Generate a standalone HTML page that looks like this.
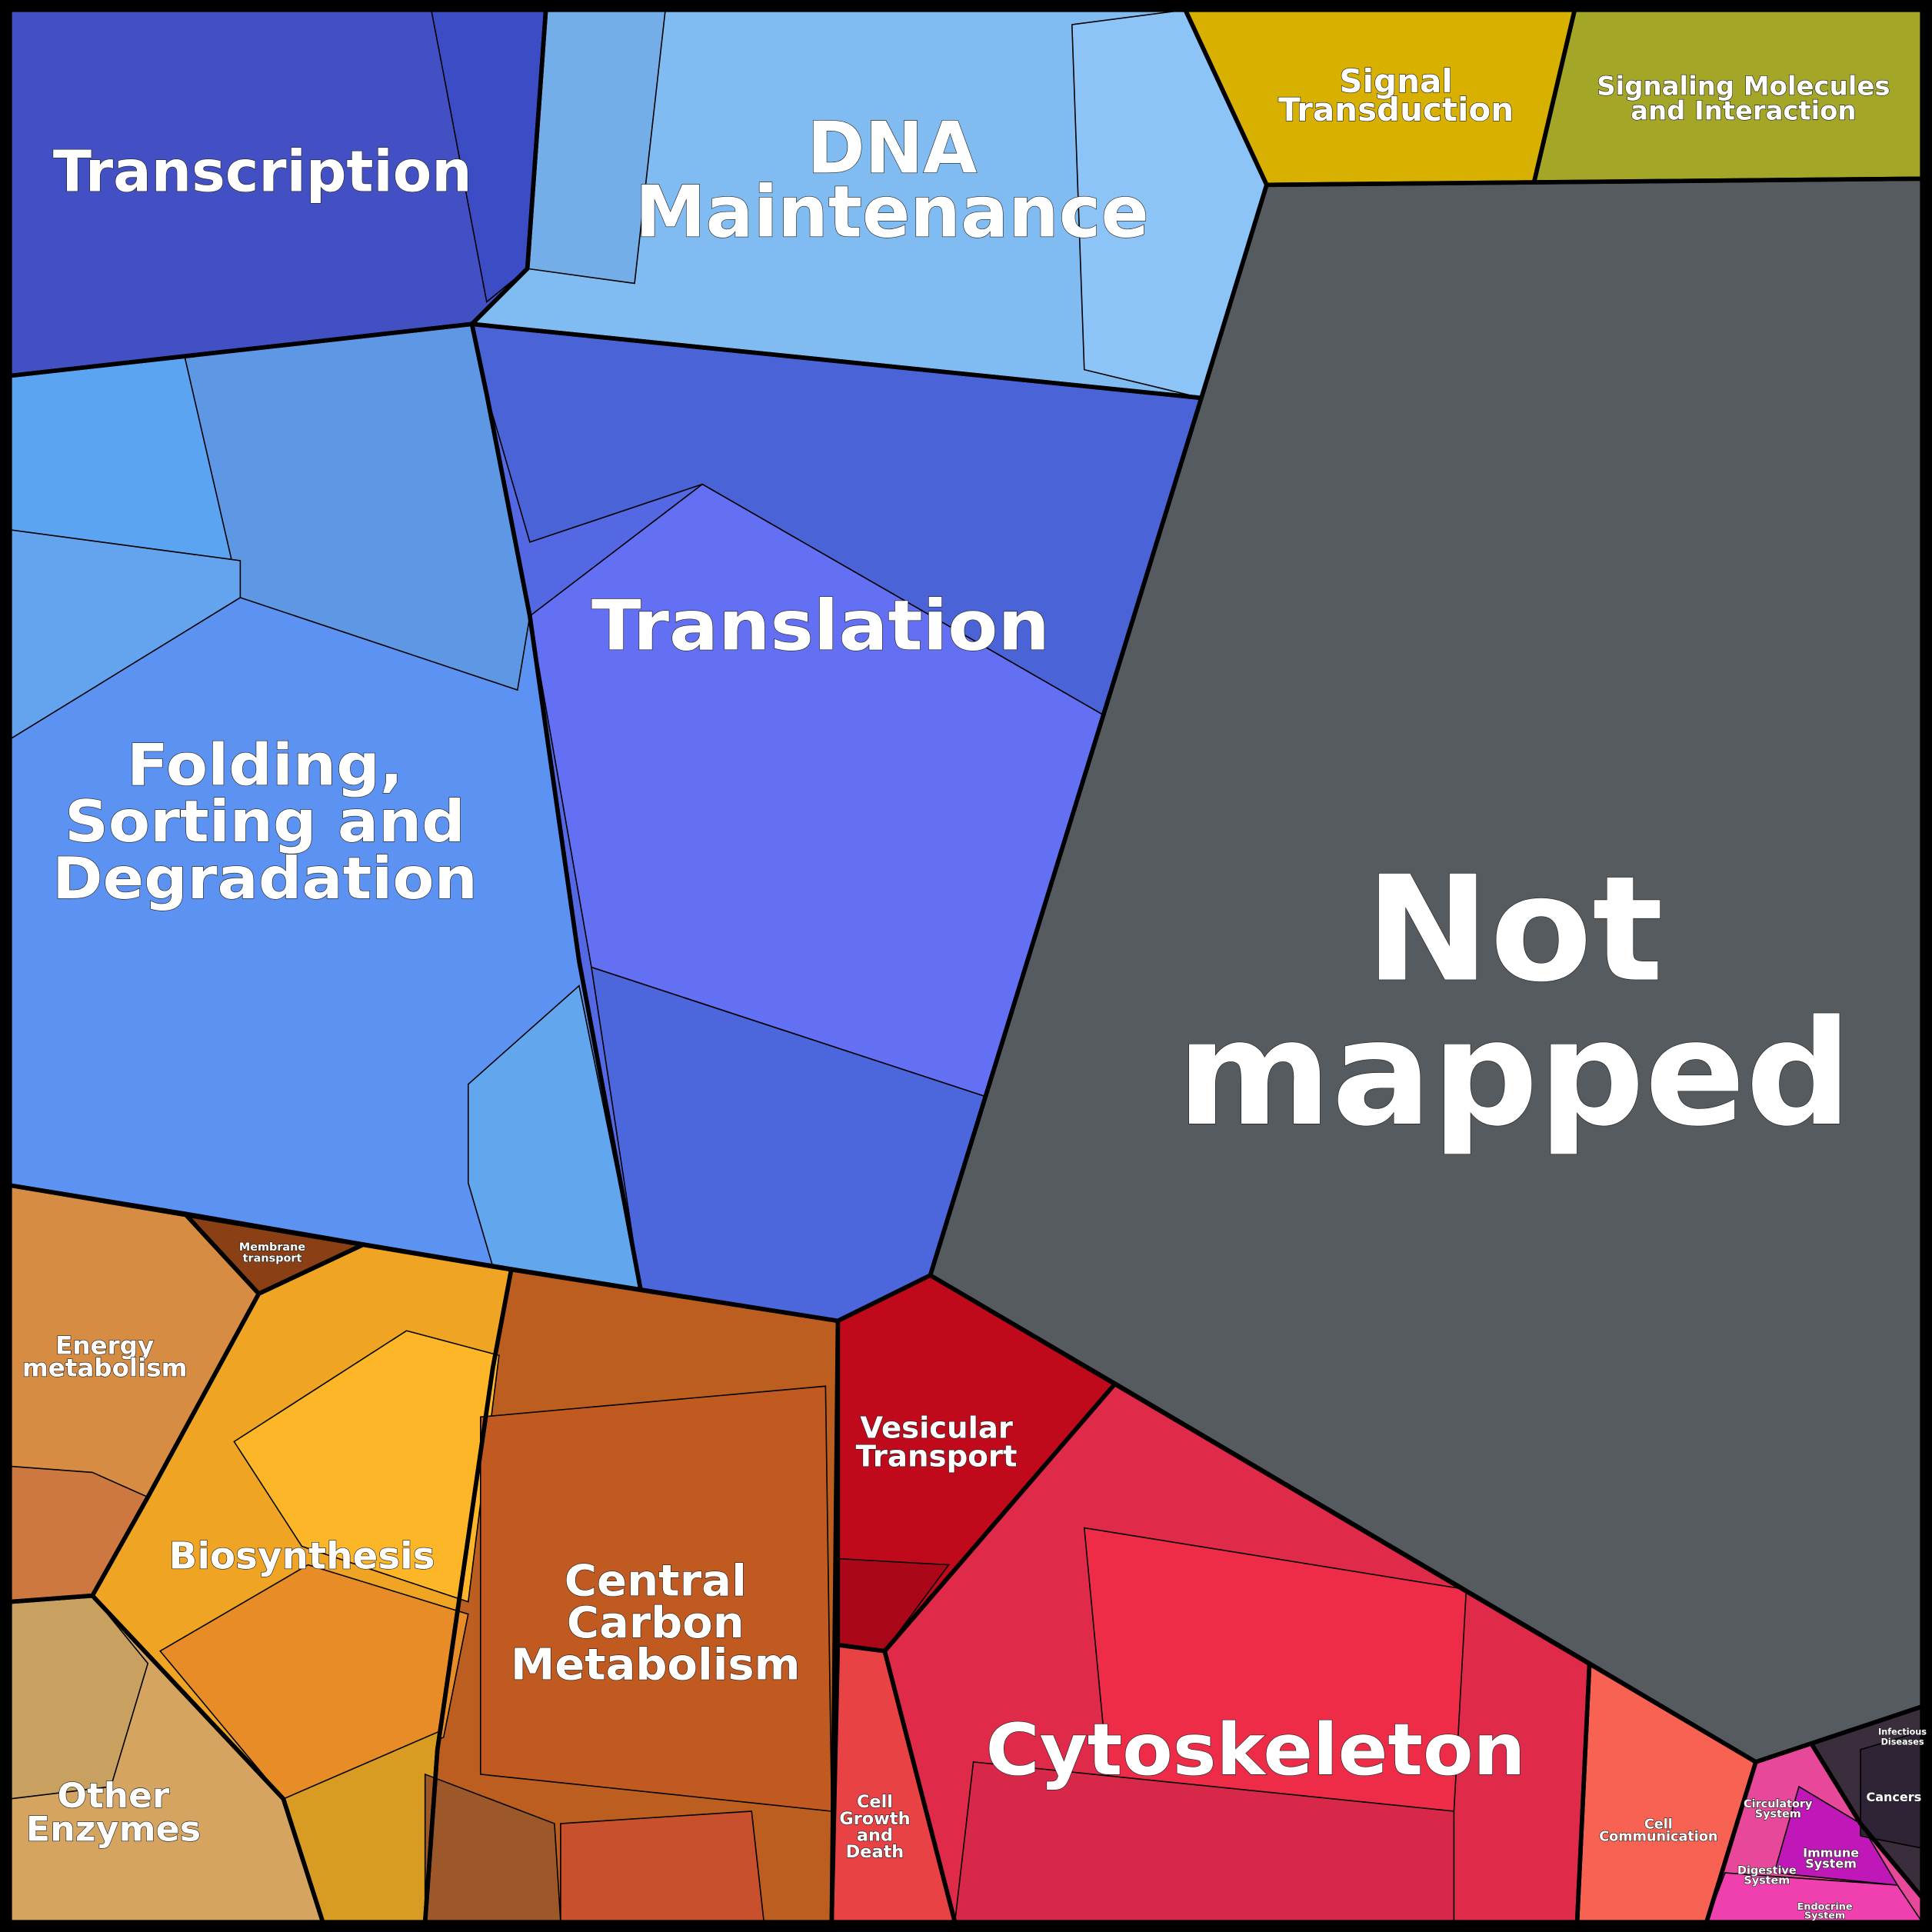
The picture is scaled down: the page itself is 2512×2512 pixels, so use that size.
<!DOCTYPE html>
<html><head><meta charset="utf-8"><style>
html,body{margin:0;padding:0;background:#000}
svg{display:block}
text{font-family:"DejaVu Sans","Liberation Sans",sans-serif;font-weight:bold;fill:#fff;stroke:#222;stroke-width:0.8;paint-order:stroke;text-anchor:middle}
</style></head><body>
<svg id="chart" width="2512" height="2512" viewBox="0 0 1568 1568" xmlns="http://www.w3.org/2000/svg">
<rect x="0" y="0" width="1568" height="1568" fill="#000"/>
<g id="cells"></g>
<g id="labels"></g>
</svg>
<script>
// categories and their (approximate) protein-abundance shares
const categories = ["Transcription","DNA Maintenance","Signal Transduction","Signaling Molecules and Interaction","Not mapped","Translation","Folding, Sorting and Degradation","Energy metabolism","Membrane transport","Biosynthesis","Central Carbon Metabolism","Other Enzymes","Vesicular Transport","Cytoskeleton","Cell Growth and Death","Cell Communication","Organismal Systems","Human Diseases"];
const shares = [5.5,7.5,1.5,1.8,27,14,13,3,0.5,5,6.5,3,2.5,9,1.2,1.5,1.2,1.2];
const colors = ["#4250c4","#80bcf2","#d8b000","#a4a628","#565b60","#5468e4","#5c92f2","#d68c42","#8a4014","#f0a424","#bc5e20","#d4a460","#c00a1c","#e02a4a","#e84244","#f86252","#e8489a","#3a2e3c"];
// layout polygons (voronoi treemap cells, display units)
const shapes = [
 [[8,8],[443,8],[428,218],[383,263],[8,305]],
 [[443,8],[962,8],[1028,150],[975,323],[383,263],[428,218]],
 [[962,8],[1278,8],[1245,148],[1028,150]],
 [[1278,8],[1560,8],[1560,145],[1245,148]],
 [[1028,150],[1560,145],[1560,1385],[1425,1430],[755,1035],[975,323]],
 [[383,263],[975,323],[755,1035],[680,1072],[520,1047],[470,780],[430,500],[395,320]],
 [[8,305],[383,263],[395,320],[430,500],[470,780],[520,1047],[400,1028],[8,962]],
 [[8,962],[150,985],[210,1050],[150,1160],[120,1215],[75,1295],[8,1300]],
 [[150,985],[295,1010],[210,1050]],
 [[210,1050],[295,1010],[415,1030],[400,1110],[355,1420],[345,1560],[262,1560],[230,1460],[75,1295],[120,1215],[150,1160]],
 [[415,1030],[680,1072],[675,1560],[345,1560],[355,1420],[400,1110]],
 [[8,1300],[75,1295],[230,1460],[262,1560],[8,1560]],
 [[680,1072],[755,1035],[905,1123],[718,1340],[680,1335]],
 [[905,1123],[1290,1350],[1280,1560],[775,1560],[718,1340]],
 [[680,1335],[718,1340],[775,1560],[675,1560]],
 [[1290,1350],[1425,1430],[1385,1560],[1280,1560]],
 [[1425,1430],[1470,1415],[1510,1480],[1560,1540],[1560,1560],[1385,1560]],
 [[1470,1415],[1560,1385],[1560,1540],[1510,1480]]
];
// shading sub-regions: [category index, colour, polygon]
const subs = [
 [0,"#3c4cc4",[[350,8],[443,8],[428,218],[395,245],[360,60]]],
 [1,"#74aee8",[[443,8],[540,8],[515,230],[428,218]]],
 [1,"#8cc4f8",[[870,20],[962,8],[1028,150],[975,323],[880,300]]],
 [5,"#4a64d8",[[383,263],[975,323],[895,580],[570,393],[430,440],[395,320]]],
 [5,"#6470f4",[[570,393],[895,580],[800,890],[480,785],[430,500]]],
 [5,"#4c66dc",[[480,785],[800,890],[755,1035],[680,1072],[520,1047]]],
 [6,"#5aa4f2",[[8,305],[150,290],[195,455],[8,430]]],
 [6,"#5e98e4",[[150,290],[383,263],[395,320],[430,500],[420,560],[195,485]]],
 [6,"#62a6ee",[[380,880],[470,800],[520,1047],[400,1028],[380,960]]],
 [6,"#64a4ee",[[8,430],[195,455],[195,485],[8,600]]],
 [9,"#fdb628",[[190,1170],[330,1080],[405,1100],[380,1300],[245,1255]]],
 [9,"#e88c28",[[130,1340],[250,1270],[380,1310],[360,1410],[230,1460]]],
 [9,"#d89c22",[[230,1460],[357,1405],[345,1560],[262,1560]]],
 [10,"#c05a20",[[390,1150],[670,1125],[675,1470],[390,1440]]],
 [10,"#9c5828",[[345,1440],[450,1480],[455,1560],[345,1560]]],
 [10,"#c8502c",[[455,1480],[610,1470],[620,1560],[455,1560]]],
 [11,"#c8a060",[[8,1300],[75,1295],[120,1350],[90,1450],[8,1460]]],
 [7,"#cc7840",[[8,1190],[75,1195],[120,1215],[75,1295],[8,1300]]],
 [13,"#ee2c48",[[880,1240],[1190,1290],[1180,1470],[900,1450]]],
 [13,"#d8284a",[[790,1430],[1180,1470],[1180,1560],[775,1560]]],
 [12,"#aa0818",[[680,1265],[770,1270],[718,1340],[680,1335]]],
 [16,"#c018b8",[[1460,1450],[1510,1480],[1540,1530],[1440,1520]]],
 [16,"#f040b0",[[1400,1520],[1540,1530],[1560,1560],[1385,1560]]],
 [17,"#2e2436",[[1510,1420],[1560,1405],[1560,1500],[1510,1490]]]
];
const ns = "http://www.w3.org/2000/svg";
const cells = document.getElementById("cells");
const pts = p => p.map(q => q.join(",")).join(" ");
categories.forEach((c, i) => {
  const el = document.createElementNS(ns, "polygon");
  el.setAttribute("points", pts(shapes[i]));
  el.setAttribute("fill", colors[i]);
  el.setAttribute("stroke", "#000");
  el.setAttribute("stroke-width", "3");
  el.setAttribute("stroke-linejoin", "round");
  
  
  cells.appendChild(el);
});
subs.forEach(s => {
  const el = document.createElementNS(ns, "polygon");
  el.setAttribute("points", pts(s[2]));
  el.setAttribute("fill", s[1]);
  el.setAttribute("stroke", "#000");
  el.setAttribute("stroke-width", "1");
  
  
  cells.appendChild(el);
});
categories.forEach((c, i) => {
  const el = document.createElementNS(ns, "polygon");
  el.setAttribute("points", pts(shapes[i]));
  el.setAttribute("fill", "none");
  el.setAttribute("stroke", "#000");
  el.setAttribute("stroke-width", "3.5");
  el.setAttribute("stroke-linejoin", "round");
  
  
  cells.appendChild(el);
});
// labels: [lines, x, first baseline, line height, font size, width-per-line or 0]
const labels = [
 [["Transcription"],213,155,0,46,[340]],
 [["DNA","Maintenance"],724,140,52,58,[138,417]],
 [["Signal","Transduction"],1133,75,23,26,[92,191]],
 [["Signaling Molecules","and Interaction"],1415,77,20,21,[238,183]],
 [["Not","mapped"],1229,795,117,118,[242,548]],
 [["Translation"],666,527,0,56,[372]],
 [["Folding,","Sorting and","Degradation"],215,637,46,47,[224,325,345]],
 [["Energy","metabolism"],85,1099,18,20,[80,134]],
 [["Membrane","transport"],221,1015,9,9,[0,0]],
 [["Biosynthesis"],245,1273,0,30,[216]],
 [["Central","Carbon","Metabolism"],532,1295,34,35,[148,144,235]],
 [["Other","Enzymes"],92,1467,27,28,[91,142]],
 [["Vesicular","Transport"],760,1167,23,24,[124,131]],
 [["Cytoskeleton"],1019,1440,0,58,[438]],
 [["Cell","Growth","and","Death"],710,1467,13.5,14,[0,0,0,0]],
 [["Cell","Communication"],1346,1484,10,11,[0,0]],
 [["Circulatory","System"],1443,1467,8,9,[0,0]],
 [["Digestive","System"],1434,1521,8,9,[0,0]],
 [["Immune","System"],1486,1507,9,10,[0,0]],
 [["Endocrine","System"],1481,1550,7,8,[0,0]],
 [["Cancers"],1537,1462,0,10,[0]],
 [["Infectious","Diseases"],1544,1408,8,7,[0,0]]
];
const lg = document.getElementById("labels");
labels.forEach(l => {
  const t = document.createElementNS(ns, "text");
  t.setAttribute("font-size", l[4]);
  
  
  l[0].forEach((line, k) => {
    const s = document.createElementNS(ns, "tspan");
    s.setAttribute("x", l[1]);
    s.setAttribute("y", l[2] + k * l[3]);
    if (l[5][k]) { s.setAttribute("textLength", l[5][k]); s.setAttribute("lengthAdjust", "spacingAndGlyphs"); }
    s.textContent = line;
    t.appendChild(s);
  });
  if (l[4] < 12) t.setAttribute("stroke-width", "0.3");
  lg.appendChild(t);
});
</script>
</body></html>
